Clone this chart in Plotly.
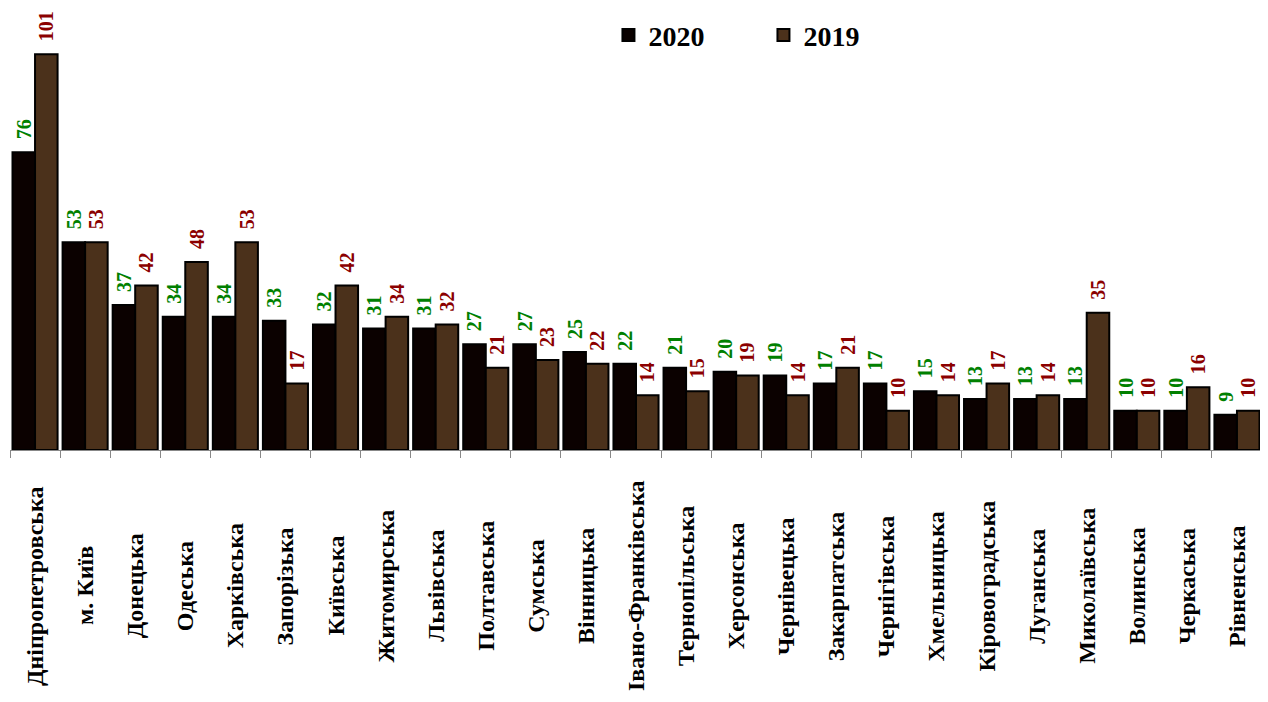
import plotly.graph_objects as go

categories = ["Дніпропетровська", "м. Київ", "Донецька", "Одеська", "Харківська", "Запорізька",
              "Київська", "Житомирська", "Львівська", "Полтавська", "Сумська", "Вінницька",
              "Івано-Франківська", "Тернопільська", "Херсонська", "Чернівецька", "Закарпатська",
              "Чернігівська", "Хмельницька", "Кіровоградська", "Луганська", "Миколаївська",
              "Волинська", "Черкаська", "Рівненська"]
values_2020 = [76, 53, 37, 34, 34, 33, 32, 31, 31, 27, 27, 25, 22, 21, 20, 19, 17, 17, 15, 13, 13, 13, 10, 10, 9]
values_2019 = [101, 53, 42, 48, 53, 17, 42, 34, 32, 21, 23, 22, 14, 15, 19, 14, 21, 10, 14, 17, 14, 35, 10, 16, 10]

FONT = "Liberation Serif"
PAD = "\u00a0\u00a0"

fig = go.Figure()
fig.add_trace(go.Bar(
    name="2020", x=categories, y=values_2020,
    marker=dict(color="#0B0100", line=dict(color="#000000", width=2)),
    text=[PAD + str(v) for v in values_2020], textposition="outside", textangle=-90,
    textfont=dict(family=FONT, size=20, color="#008000", weight="bold"),
    constraintext="none", cliponaxis=False,
))
fig.add_trace(go.Bar(
    name="2019", x=categories, y=values_2019,
    marker=dict(color="#4B311B", line=dict(color="#000000", width=2)),
    text=[PAD + str(v) for v in values_2019], textposition="outside", textangle=-90,
    textfont=dict(family=FONT, size=20, color="#8B0000", weight="bold"),
    constraintext="none", cliponaxis=False,
))

annotations = []
for c in categories:
    annotations.append(dict(
        x=c, xref="x", y=0, yref="paper", yshift=-136,
        text=c, showarrow=False, textangle=-90,
        xanchor="center", yanchor="middle",
        font=dict(family=FONT, size=24, color="#000000", weight="bold"),
    ))

fig.update_layout(
    width=1268, height=702,
    margin=dict(l=2, r=14, t=2, b=260),
    paper_bgcolor="white", plot_bgcolor="white",
    barmode="group", bargap=0.1, bargroupgap=0,
    showlegend=True,
    legend=dict(orientation="h", x=0.478, xanchor="left", y=1.02, yanchor="top",
                font=dict(family=FONT, size=28, color="#000000", weight="bold"),
                entrywidth=110, bgcolor="rgba(0,0,0,0)"),
    xaxis=dict(showline=True, linecolor="#888888", linewidth=1, ticks="outside",
               tickson="boundaries", ticklen=7, tickcolor="#888888",
               showticklabels=False, showgrid=False, zeroline=False),
    yaxis=dict(range=[0, 110.0], visible=False, showgrid=False, zeroline=False),
    annotations=annotations,
)

fig.write_html("out.html")
